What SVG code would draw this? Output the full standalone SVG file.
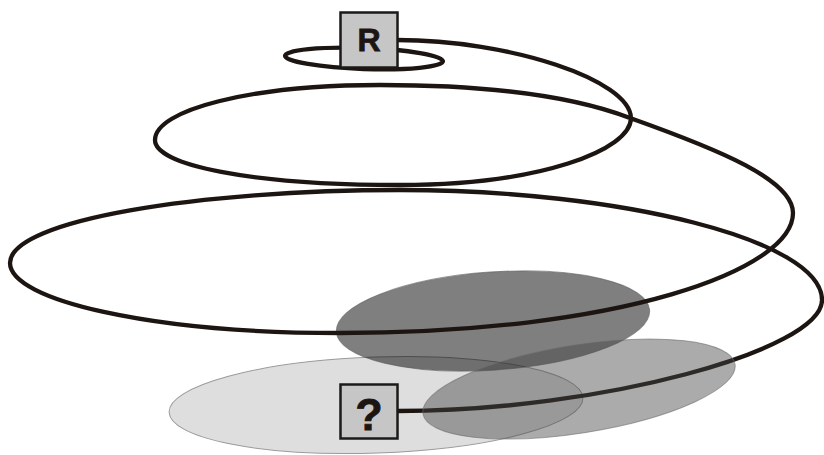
<svg xmlns="http://www.w3.org/2000/svg" width="824" height="455" viewBox="0 0 824 455">
  <style>
    .spiral { fill: none; stroke: #1c1512; stroke-width: 4.3; stroke-linecap: round; stroke-linejoin: round; }
    .box { fill: #c6c6c6; stroke: #1c1a18; stroke-width: 2.5; }
    .lbl { font-family: "Liberation Sans", Arial, sans-serif; font-weight: bold; fill: #1c1512; stroke: #1c1512; stroke-width: 0.8; text-anchor: middle; }
  </style>
  <rect width="824" height="455" fill="#ffffff"/>
  <g id="zone-light">
    <ellipse cx="376" cy="405" rx="207" ry="48" transform="rotate(-2 376 405)" fill="#dedede" stroke="#9a9a9a" stroke-width="1"/>
  </g>
  <g id="zone-dark">
    <ellipse cx="493" cy="321" rx="157" ry="49" transform="rotate(-4 493 321)" fill="#000000" fill-opacity="0.5" stroke="#5a5a5a" stroke-opacity="0.6" stroke-width="1"/>
  </g>
  <g id="connectors">
    <ellipse class="spiral" cx="364" cy="58.5" rx="79" ry="10.5" transform="rotate(2 364 58.5)"/>
    <path class="spiral" d="M 397 40 C 510 40 630 80 631 118 C 631 150 540 185 400 185 C 250 185 155 165 155 140 C 155 110 250 85 380 85 C 480 85 570 95 630 118 C 720 150 793 180 793 213 C 793 270 620 333 340 333 C 150 333 10 300 10 263 C 10 220 200 190 400 190 C 620 190 822 240 822 300 C 822 350 600 411 398 411"/>
  </g>
  <g id="zone-medium">
    <ellipse cx="579" cy="389" rx="158" ry="44" transform="rotate(-9 579 389)" fill="#454545" fill-opacity="0.45" stroke="#6a6a6a" stroke-opacity="0.6" stroke-width="1"/>
  </g>
  <g id="node-R">
    <rect class="box" x="340.5" y="12.5" width="57" height="55"/>
    <text class="lbl" x="369" y="51" font-size="32">R</text>
  </g>
  <g id="node-unknown">
    <rect class="box" x="340.5" y="384.5" width="57" height="54"/>
    <text class="lbl" x="369" y="430" font-size="45">?</text>
  </g>
</svg>
